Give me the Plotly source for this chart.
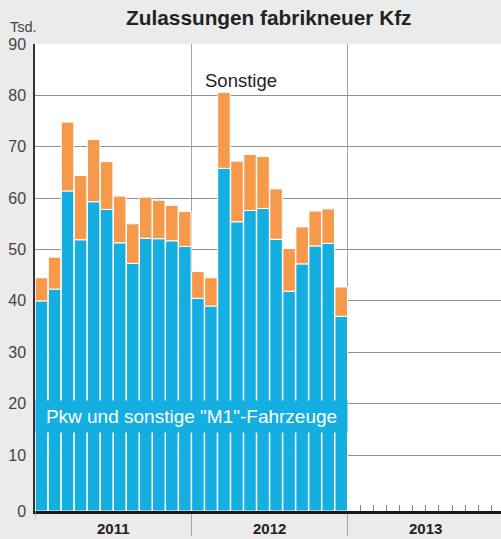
import plotly.graph_objects as go

# ---- data (thousands of vehicles) ----
years = ["2011", "2012", "2013"]
months_per_year = 12
pkw = [40.0, 42.3, 61.4, 51.9, 59.3, 57.8, 51.3, 47.3, 52.2, 52.1, 51.7, 50.6,
       40.5, 39.0, 65.8, 55.4, 57.6, 58.0, 52.0, 41.9, 47.2, 50.7, 51.2, 37.0]
sonstige = [4.5, 6.2, 13.4, 12.5, 12.1, 9.3, 9.1, 7.7, 8.0, 7.5, 6.9, 6.8,
            5.2, 5.5, 14.8, 11.8, 10.9, 10.1, 9.8, 8.3, 7.2, 6.8, 6.7, 5.7]
y_ticks = [0, 10, 20, 30, 40, 50, 60, 70, 80, 90]

BLUE = "#15aee0"
ORANGE = "#f7994a"
BG = "#ebebec"
GRID = "#8f8f8f"
FONT = "Liberation Sans, Arial, Helvetica, sans-serif"
YMIN = -0.9  # axis baseline sits slightly below the value 0

x = [i + 0.5 for i in range(len(pkw))]

fig = go.Figure()
fig.add_trace(go.Bar(
    x=x, y=[v - YMIN for v in pkw], base=YMIN,
    marker=dict(color=BLUE, line=dict(color="white", width=1)),
    width=0.96, name="Pkw", hoverinfo="skip"))
fig.add_trace(go.Bar(
    x=x, y=sonstige, base=pkw,
    marker=dict(color=ORANGE, line=dict(color="white", width=1)),
    width=0.96, name="Sonstige", hoverinfo="skip"))

n_total = months_per_year * len(years)
year_bounds = [months_per_year * k for k in range(1, len(years))]
minor_vals = [v for v in range(months_per_year * 2 + 1, n_total)]

fig.update_layout(
    width=501, height=539,
    margin=dict(l=35, r=0, t=44, b=28),
    paper_bgcolor=BG, plot_bgcolor="white",
    showlegend=False, barmode="overlay",
    font=dict(family=FONT, color="#333"),
    title=dict(text="<b>Zulassungen fabrikneuer Kfz</b>",
               x=0.5365, xanchor="center", y=1 - 18 / 539, yanchor="middle",
               font=dict(size=20.8, color="#222", family=FONT)),
    xaxis=dict(range=[0, 35.76], tickmode="array", tickvals=year_bounds,
               ticktext=["" for _ in year_bounds],
               showgrid=True, gridcolor="#a6a6a6", gridwidth=1.2,
               ticks="outside", ticklen=22, tickcolor="#a6a6a6", tickwidth=1.2,
               showline=True, linecolor="#1a1a1a", linewidth=2.5,
               zeroline=False, fixedrange=True,
               minor=dict(tickmode="array", tickvals=minor_vals, ticks="inside",
                          ticklen=6, tickcolor="#8a8a8a", tickwidth=1, showgrid=False)),
    yaxis=dict(range=[YMIN, 90], tickmode="array",
               tickvals=[YMIN] + y_ticks[1:], ticktext=[str(v) for v in y_ticks],
               showgrid=True, gridcolor=GRID, gridwidth=1.3,
               showline=True, linecolor="#333", linewidth=1.5,
               zeroline=False, ticks="", ticklabelstandoff=4,
               tickfont=dict(size=16, color="#444", family=FONT), fixedrange=True),
)

# year labels
for k, yr in enumerate(years):
    fig.add_annotation(x=months_per_year * k + months_per_year / 2, xref="x",
                       y=-0.0375, yref="paper", text=f"<b>{yr}</b>",
                       showarrow=False, yanchor="middle",
                       font=dict(size=15, color="#222", family=FONT))

# small tick at the left edge
fig.add_shape(type="line", xref="x", yref="paper", x0=0, x1=0, y0=0, y1=-0.016,
              line=dict(color="#aaaaaa", width=1.2))

# unit label
fig.add_annotation(x=(8 - 35) / 466, xref="paper", y=1.0364, yref="paper", text="Tsd.",
                   showarrow=False, xanchor="left", yanchor="middle",
                   font=dict(size=14.5, color="#444", family=FONT))

# series labels
fig.add_annotation(x=12, xref="x", y=17.5, yref="y",
                   text='Pkw und sonstige "M1"-Fahrzeuge', showarrow=False,
                   bgcolor=BLUE, width=311, height=31, borderpad=0,
                   xanchor="center", yanchor="middle",
                   font=dict(size=19, color="white", family=FONT))
fig.add_annotation(x=15.8, xref="x", y=82.9, yref="y", text="Sonstige",
                   showarrow=False, xanchor="center", yanchor="middle",
                   font=dict(size=18.5, color="#222", family=FONT))

fig.write_html("out.html", config={"displayModeBar": False},
               post_script="document.body.style.margin='0';")
